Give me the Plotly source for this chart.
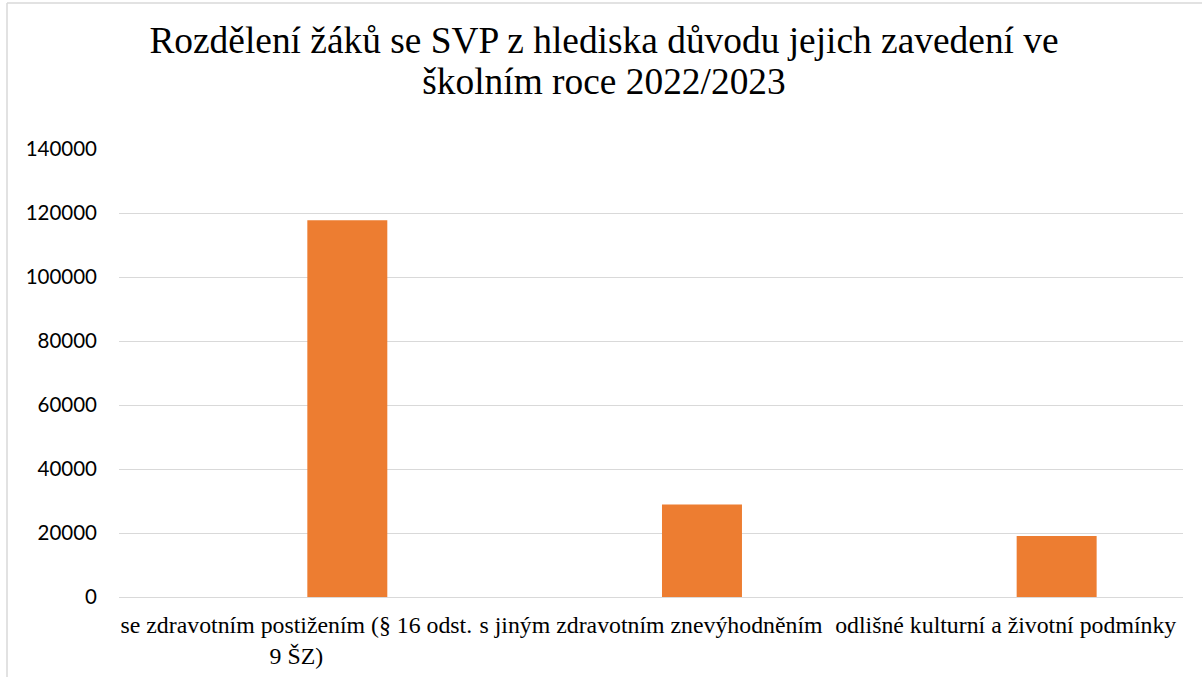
import plotly.graph_objects as go

categories = [
    "se zdravotním postižením (§ 16 odst. 9 ŠZ)",
    "s jiným zdravotním znevýhodněním",
    "odlišné kulturní a životní podmínky",
]
tick_labels = [
    "se zdravotním postižením (§ 16 odst.<br>9 ŠZ)",
    "s jiným zdravotním znevýhodněním",
    "odlišné kulturní a životní podmínky",
]
values = [117700, 28900, 19100]
y_ticks = [0, 20000, 40000, 60000, 80000, 100000, 120000, 140000]

title_lines = [
    "Rozdělení žáků se SVP z hlediska důvodu jejich zavedení ve",
    "školním roce 2022/2023",
]
title_text = "<br>".join('<span style="font-size:37.4px">%s</span>' % t for t in title_lines)

W, H = 1202, 677
ML, MR, MT, MB = 119, 19, 149, 80
PW, PH = W - ML - MR, H - MT - MB

fig = go.Figure()
fig.add_trace(go.Bar(
    x=categories,
    y=values,
    marker=dict(color="#ED7D31", line=dict(width=0)),
    offset=0.031,
    width=0.2255,
    showlegend=False,
    hoverinfo="x+y",
))

def px_x(p):
    return (p - ML) / PW

def px_y(p):
    return (H - MB - p) / PH

fig.update_layout(
    width=W, height=H,
    margin=dict(l=ML, r=MR, t=MT, b=MB, autoexpand=False),
    paper_bgcolor="white",
    plot_bgcolor="white",
    title=dict(
        text=title_text,
        x=0.5025, xref="container", xanchor="center",
        y=0.922, yref="container", yanchor="top",
        font=dict(family="Liberation Serif, Times New Roman, serif", size=32, color="#000000"),
    ),
    xaxis=dict(
        type="category",
        tickmode="array",
        tickvals=categories,
        ticktext=tick_labels,
        showgrid=False,
        showline=False,
        ticks="",
        ticklabelstandoff=11,
        tickfont=dict(family="Liberation Serif", size=23.8, color="#000000"),
        range=[-0.5, 2.5],
        fixedrange=True,
    ),
    yaxis=dict(
        range=[0, 140000],
        tickvals=y_ticks,
        ticktext=[str(v) for v in y_ticks],
        showgrid=True,
        gridcolor="#d9d9d9",
        gridwidth=1.3,
        zeroline=True,
        zerolinecolor="#d9d9d9",
        zerolinewidth=1.3,
        showline=False,
        ticks="",
        ticklabelstandoff=21,
        tickfont=dict(family="Lato, Open Sans, sans-serif", size=20.5, color="#000000"),
        fixedrange=True,
    ),
    shapes=[
        dict(type="line", xref="paper", yref="paper",
             x0=px_x(7), x1=px_x(W + 5), y0=px_y(3), y1=px_y(3),
             line=dict(color="#d9d9d9", width=1.5)),
        dict(type="line", xref="paper", yref="paper",
             x0=px_x(7), x1=px_x(7), y0=px_y(3), y1=px_y(H + 5),
             line=dict(color="#d9d9d9", width=1.5)),
    ],
)

fig.write_html("out.html", config={"displayModeBar": False},
               post_script="document.body.style.margin='0';")
